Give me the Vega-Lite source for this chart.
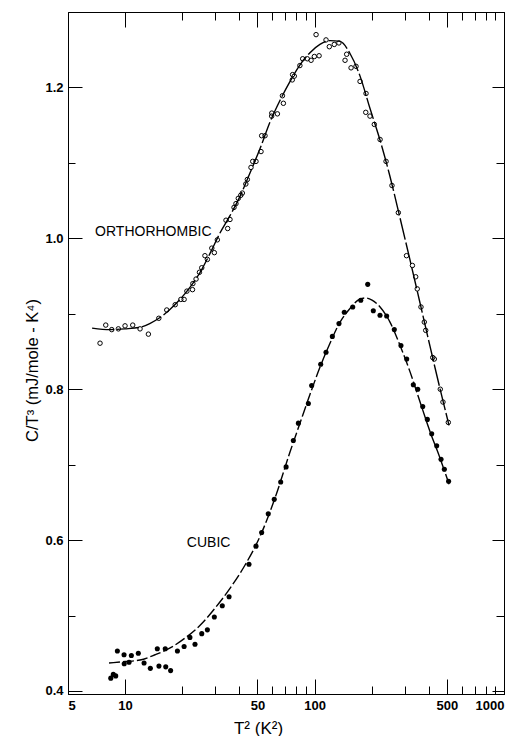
{
  "$schema": "https://vega.github.io/schema/vega-lite/v6.json",
  "width": 436,
  "height": 682,
  "autosize": {"type": "none"},
  "padding": {"left": 68, "top": 12, "right": 9, "bottom": 42},
  "background": "white",
  "config": {
    "view": {"stroke": "black", "strokeWidth": 1},
    "axis": {"grid": false, "domainColor": "black", "tickColor": "black", "tickWidth": 1, "labelColor": "black", "titleColor": "black", "labelFont": "Liberation Sans", "titleFont": "Liberation Sans", "labelFontWeight": "bold", "labelFontSize": 13, "titleFontWeight": "normal", "labelOverlap": false}
  },
  "datasets": {
    "ortho": [
      {"T2": 7.38, "C": 0.861}, {"T2": 7.91, "C": 0.885}, {"T2": 8.51, "C": 0.879}, {"T2": 9.22, "C": 0.880},
      {"T2": 10.0, "C": 0.884}, {"T2": 10.98, "C": 0.885}, {"T2": 12.0, "C": 0.880}, {"T2": 13.28, "C": 0.873},
      {"T2": 15.07, "C": 0.894}, {"T2": 16.6, "C": 0.905}, {"T2": 18.4, "C": 0.912}, {"T2": 19.7, "C": 0.919},
      {"T2": 20.5, "C": 0.919}, {"T2": 21.2, "C": 0.930}, {"T2": 22.7, "C": 0.932}, {"T2": 22.8, "C": 0.940},
      {"T2": 23.7, "C": 0.946}, {"T2": 24.7, "C": 0.955}, {"T2": 25.4, "C": 0.961}, {"T2": 26.4, "C": 0.977},
      {"T2": 27.2, "C": 0.972}, {"T2": 28.7, "C": 0.987}, {"T2": 29.6, "C": 0.981}, {"T2": 30.7, "C": 0.998},
      {"T2": 34.1, "C": 1.024}, {"T2": 34.8, "C": 1.013}, {"T2": 35.8, "C": 1.025}, {"T2": 37.6, "C": 1.041},
      {"T2": 38.5, "C": 1.046}, {"T2": 39.6, "C": 1.053}, {"T2": 40.8, "C": 1.057}, {"T2": 41.6, "C": 1.060},
      {"T2": 43.4, "C": 1.072}, {"T2": 44.2, "C": 1.078}, {"T2": 46.2, "C": 1.094}, {"T2": 47.2, "C": 1.102},
      {"T2": 49.1, "C": 1.102}, {"T2": 52.2, "C": 1.115}, {"T2": 52.6, "C": 1.136}, {"T2": 54.8, "C": 1.136},
      {"T2": 59.4, "C": 1.162}, {"T2": 59.5, "C": 1.166}, {"T2": 63.7, "C": 1.165}, {"T2": 67.7, "C": 1.189},
      {"T2": 68.5, "C": 1.179}, {"T2": 76.3, "C": 1.210}, {"T2": 76.6, "C": 1.217}, {"T2": 78.2, "C": 1.215},
      {"T2": 83.7, "C": 1.229}, {"T2": 86.6, "C": 1.238}, {"T2": 91.6, "C": 1.238}, {"T2": 95.9, "C": 1.236},
      {"T2": 99.8, "C": 1.241}, {"T2": 105.7, "C": 1.242}, {"T2": 101.9, "C": 1.270}, {"T2": 115.0, "C": 1.263},
      {"T2": 119.7, "C": 1.254}, {"T2": 127.1, "C": 1.257}, {"T2": 134.5, "C": 1.259}, {"T2": 147.8, "C": 1.244},
      {"T2": 144.9, "C": 1.236}, {"T2": 155.9, "C": 1.226}, {"T2": 165.6, "C": 1.228}, {"T2": 173.9, "C": 1.208},
      {"T2": 187.0, "C": 1.192}, {"T2": 186.4, "C": 1.167}, {"T2": 196.2, "C": 1.162}, {"T2": 206.8, "C": 1.151},
      {"T2": 221.8, "C": 1.131}, {"T2": 238.5, "C": 1.102}, {"T2": 256.3, "C": 1.070}, {"T2": 276.9, "C": 1.034},
      {"T2": 305.8, "C": 0.977}, {"T2": 328.6, "C": 0.964}, {"T2": 341.9, "C": 0.949}, {"T2": 348.5, "C": 0.933},
      {"T2": 364.6, "C": 0.909}, {"T2": 379.6, "C": 0.889}, {"T2": 386.2, "C": 0.878}, {"T2": 420.6, "C": 0.842},
      {"T2": 428.8, "C": 0.840}, {"T2": 461.0, "C": 0.800}, {"T2": 476.3, "C": 0.783}, {"T2": 508.3, "C": 0.756}
    ],
    "cubic": [
      {"T2": 8.41, "C": 0.417}, {"T2": 8.67, "C": 0.422}, {"T2": 8.93, "C": 0.420}, {"T2": 9.11, "C": 0.453},
      {"T2": 9.88, "C": 0.448}, {"T2": 9.9, "C": 0.436}, {"T2": 10.5, "C": 0.438}, {"T2": 10.8, "C": 0.447},
      {"T2": 11.75, "C": 0.450}, {"T2": 12.6, "C": 0.437}, {"T2": 13.6, "C": 0.430}, {"T2": 14.8, "C": 0.456},
      {"T2": 15.1, "C": 0.433}, {"T2": 16.3, "C": 0.456}, {"T2": 16.4, "C": 0.432}, {"T2": 17.4, "C": 0.427},
      {"T2": 18.9, "C": 0.453}, {"T2": 20.5, "C": 0.459}, {"T2": 22.0, "C": 0.471}, {"T2": 23.4, "C": 0.462},
      {"T2": 25.4, "C": 0.476}, {"T2": 27.2, "C": 0.481}, {"T2": 29.6, "C": 0.498}, {"T2": 32.6, "C": 0.513},
      {"T2": 35.4, "C": 0.525}, {"T2": 45.1, "C": 0.568}, {"T2": 49.1, "C": 0.592}, {"T2": 52.6, "C": 0.610},
      {"T2": 57.0, "C": 0.635}, {"T2": 61.3, "C": 0.654}, {"T2": 66.3, "C": 0.677}, {"T2": 70.8, "C": 0.697},
      {"T2": 77.3, "C": 0.732}, {"T2": 82.2, "C": 0.755}, {"T2": 92.8, "C": 0.781}, {"T2": 96.6, "C": 0.805},
      {"T2": 107.8, "C": 0.833}, {"T2": 115.0, "C": 0.849}, {"T2": 124.2, "C": 0.870}, {"T2": 134.6, "C": 0.887},
      {"T2": 143.6, "C": 0.902}, {"T2": 159.1, "C": 0.909}, {"T2": 175.4, "C": 0.918}, {"T2": 190.9, "C": 0.939},
      {"T2": 204.3, "C": 0.904}, {"T2": 221.6, "C": 0.898}, {"T2": 240.3, "C": 0.897}, {"T2": 263.7, "C": 0.879},
      {"T2": 285.9, "C": 0.858}, {"T2": 306.6, "C": 0.840}, {"T2": 332.2, "C": 0.806}, {"T2": 350.6, "C": 0.800},
      {"T2": 372.5, "C": 0.777}, {"T2": 393.9, "C": 0.760}, {"T2": 415.3, "C": 0.741}, {"T2": 441.3, "C": 0.725},
      {"T2": 465.2, "C": 0.707}, {"T2": 484.4, "C": 0.694}, {"T2": 510.0, "C": 0.678}
    ],
    "orthoFit": [
      {"T2": 6.70, "C": 0.881}, {"T2": 8.33, "C": 0.879}, {"T2": 10.0, "C": 0.880}, {"T2": 12.0, "C": 0.882},
      {"T2": 13.5, "C": 0.887}, {"T2": 15.3, "C": 0.895}, {"T2": 17.3, "C": 0.906}, {"T2": 19.5, "C": 0.919},
      {"T2": 22.0, "C": 0.935}, {"T2": 24.9, "C": 0.955}, {"T2": 28.1, "C": 0.980}, {"T2": 31.7, "C": 1.007},
      {"T2": 35.8, "C": 1.030}, {"T2": 40.5, "C": 1.056}, {"T2": 45.7, "C": 1.087}, {"T2": 51.6, "C": 1.119},
      {"T2": 58.2, "C": 1.154}, {"T2": 65.8, "C": 1.183}, {"T2": 74.3, "C": 1.208}, {"T2": 83.8, "C": 1.230},
      {"T2": 94.6, "C": 1.246}, {"T2": 106.8, "C": 1.257}, {"T2": 120.7, "C": 1.262}, {"T2": 136.4, "C": 1.261},
      {"T2": 153.9, "C": 1.245}, {"T2": 173.9, "C": 1.215}, {"T2": 196.3, "C": 1.172}, {"T2": 221.8, "C": 1.130},
      {"T2": 250.2, "C": 1.082}, {"T2": 282.7, "C": 1.027}, {"T2": 319.3, "C": 0.971}, {"T2": 360.6, "C": 0.914},
      {"T2": 406.8, "C": 0.857}, {"T2": 459.1, "C": 0.801}, {"T2": 512.9, "C": 0.752}
    ],
    "cubicFit": [
      {"T2": 8.23, "C": 0.437}, {"T2": 10.0, "C": 0.439}, {"T2": 12.0, "C": 0.441}, {"T2": 14.4, "C": 0.448},
      {"T2": 17.3, "C": 0.457}, {"T2": 20.7, "C": 0.470}, {"T2": 24.9, "C": 0.487}, {"T2": 29.9, "C": 0.510},
      {"T2": 35.8, "C": 0.536}, {"T2": 43.0, "C": 0.567}, {"T2": 51.6, "C": 0.605}, {"T2": 61.9, "C": 0.656},
      {"T2": 74.3, "C": 0.717}, {"T2": 83.8, "C": 0.755}, {"T2": 94.6, "C": 0.793}, {"T2": 106.8, "C": 0.829},
      {"T2": 120.7, "C": 0.861}, {"T2": 136.4, "C": 0.889}, {"T2": 153.9, "C": 0.907}, {"T2": 169.7, "C": 0.918},
      {"T2": 184.8, "C": 0.921}, {"T2": 201.1, "C": 0.918}, {"T2": 221.8, "C": 0.909}, {"T2": 250.2, "C": 0.889},
      {"T2": 282.7, "C": 0.858}, {"T2": 319.3, "C": 0.823}, {"T2": 360.6, "C": 0.783}, {"T2": 406.8, "C": 0.744},
      {"T2": 459.1, "C": 0.709}, {"T2": 512.9, "C": 0.674}
    ],
    "labels": [
      {"T2": 6.95, "C": 1.008, "text": "ORTHORHOMBIC"},
      {"T2": 21.2, "C": 0.596, "text": "CUBIC"}
    ]
  },
  "resolve": {"axis": {"x": "independent", "y": "independent"}},
  "layer": [
    {
      "data": {"name": "ortho"},
      "mark": {"type": "point", "shape": "circle", "filled": false, "stroke": "black", "strokeWidth": 1, "size": 20, "opacity": 1},
      "encoding": {
        "x": {"field": "T2", "type": "quantitative", "scale": {"type": "log", "domain": [5, 1000], "nice": false},
          "axis": {"orient": "bottom", "title": "T² (K²)", "titleFontSize": 17, "titleX": 190, "titleY": 39, "titleBaseline": "alphabetic",
            "values": [5, 10, 20, 30, 40, 50, 60, 70, 80, 90, 100, 200, 300, 400, 500, 600, 700, 800, 900, 1000],
            "format": "d",
            "labelExpr": "indexof([5,10,50,100,500,1000], datum.value) >= 0 ? datum.label : ''",
            "tickSize": {"condition": {"test": "indexof([5,10,50,100,500,1000], datum.value) >= 0", "value": -15}, "value": -8},
            "labelPadding": 20, "labelBaseline": "top"}},
        "y": {"field": "C", "type": "quantitative", "scale": {"domain": [0.396, 1.3], "nice": false, "zero": false},
          "axis": {"orient": "left", "title": "C/T³ (mJ/mole - K⁴)", "titleFontSize": 16.5, "titleX": -31, "titleY": 358, "titleBaseline": "alphabetic",
            "values": [0.4, 0.5, 0.6, 0.7, 0.8, 0.9, 1.0, 1.1, 1.2],
            "format": ".1f",
            "labelExpr": "round(datum.value * 10) % 2 == 0 ? datum.label : ''",
            "tickSize": {"condition": {"test": "round(datum.value * 10) % 2 == 0", "value": -14}, "value": -7},
            "labelPadding": 19}}
      }
    },
    {
      "data": {"name": "cubic"},
      "mark": {"type": "point", "shape": "circle", "filled": true, "fill": "black", "size": 26, "opacity": 1},
      "encoding": {
        "x": {"field": "T2", "type": "quantitative", "scale": {"type": "log", "domain": [5, 1000], "nice": false},
          "axis": {"orient": "top", "title": null, "labels": false,
            "values": [10, 20, 30, 40, 50, 60, 70, 80, 90, 100, 200, 300, 400, 500, 600, 700, 800, 900, 1000],
            "tickSize": {"condition": {"test": "indexof([10,50,100,500], datum.value) >= 0", "value": -15}, "value": -8}}},
        "y": {"field": "C", "type": "quantitative", "scale": {"domain": [0.396, 1.3], "nice": false, "zero": false},
          "axis": {"orient": "right", "title": null, "labels": false,
            "values": [0.4, 0.5, 0.6, 0.7, 0.8, 0.9, 1.0, 1.1, 1.2],
            "tickSize": {"condition": {"test": "round(datum.value * 10) % 2 == 0", "value": -12}, "value": -8}}}
      }
    },
    {
      "data": {"name": "orthoFit"},
      "mark": {"type": "line", "color": "black", "strokeWidth": 1.4, "strokeDash": [22, 3], "interpolate": "monotone"},
      "encoding": {
        "x": {"field": "T2", "type": "quantitative", "scale": {"type": "log", "domain": [5, 1000], "nice": false}, "axis": null},
        "y": {"field": "C", "type": "quantitative", "scale": {"domain": [0.396, 1.3], "nice": false, "zero": false}, "axis": null}
      }
    },
    {
      "data": {"name": "cubicFit"},
      "mark": {"type": "line", "color": "black", "strokeWidth": 1.4, "strokeDash": [11, 3], "interpolate": "monotone"},
      "encoding": {
        "x": {"field": "T2", "type": "quantitative", "scale": {"type": "log", "domain": [5, 1000], "nice": false}, "axis": null},
        "y": {"field": "C", "type": "quantitative", "scale": {"domain": [0.396, 1.3], "nice": false, "zero": false}, "axis": null}
      }
    },
    {
      "data": {"name": "labels"},
      "mark": {"type": "text", "align": "left", "baseline": "middle", "font": "Liberation Sans", "fontSize": 14, "color": "black"},
      "encoding": {
        "x": {"field": "T2", "type": "quantitative", "scale": {"type": "log", "domain": [5, 1000], "nice": false}, "axis": null},
        "y": {"field": "C", "type": "quantitative", "scale": {"domain": [0.396, 1.3], "nice": false, "zero": false}, "axis": null},
        "text": {"field": "text", "type": "nominal"}
      }
    }
  ]
}
